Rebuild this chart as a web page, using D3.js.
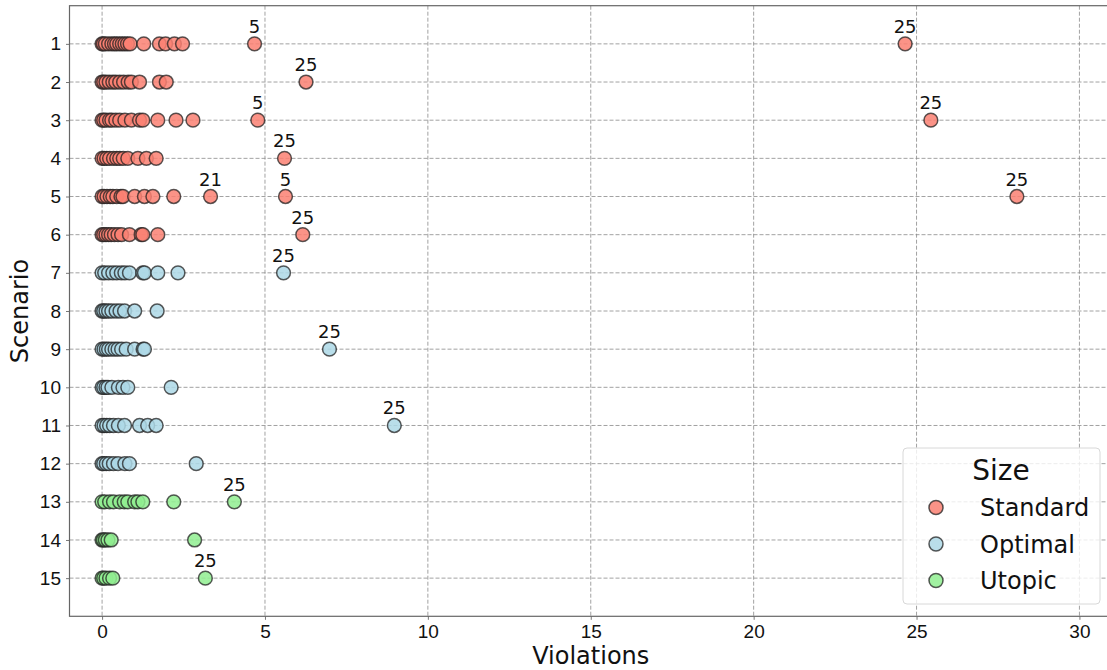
<!DOCTYPE html>
<html>
<head>
<meta charset="utf-8">
<script src="https://cdn.jsdelivr.net/npm/d3@7"></script>
<style>
  html, body { margin: 0; padding: 0; background: #fff; }
  svg { display: block; font-family: "DejaVu Sans", sans-serif; }
</style>
</head>
<body>
<svg id="chart" width="1107" height="670"></svg>
<script>
// Violations per run, one list per scenario
const scenarios = [1, 2, 3, 4, 5, 6, 7, 8, 9, 10, 11, 12, 13, 14, 15];
const scenarioSize = ["Standard", "Standard", "Standard", "Standard", "Standard", "Standard",
  "Optimal", "Optimal", "Optimal", "Optimal", "Optimal", "Optimal",
  "Utopic", "Utopic", "Utopic"];

const standardRuns = [
  [0, 0.04, 0.1, 0.2, 0.3, 0.38, 0.45, 0.54, 0.62, 0.7, 0.78, 0.86, 1.28, 1.76, 1.95, 2.22, 2.47, 4.68, 24.65],
  [0, 0.05, 0.12, 0.22, 0.33, 0.42, 0.54, 0.66, 0.8, 0.9, 1.15, 1.76, 1.97, 6.26],
  [0, 0.05, 0.12, 0.23, 0.3, 0.42, 0.54, 0.7, 0.9, 1.15, 1.25, 1.71, 2.27, 2.79, 4.78, 25.44],
  [0, 0.06, 0.14, 0.23, 0.35, 0.45, 0.54, 0.65, 0.79, 1.1, 1.36, 1.66, 5.6],
  [0, 0.06, 0.15, 0.25, 0.33, 0.45, 0.58, 0.64, 1.0, 1.3, 1.56, 2.2, 3.33, 5.63, 28.08],
  [0, 0.05, 0.12, 0.2, 0.28, 0.38, 0.49, 0.6, 0.84, 1.2, 1.25, 1.71, 6.16]
];
const optimalRuns = [
  [0, 0.08, 0.2, 0.33, 0.45, 0.59, 0.7, 0.84, 1.25, 1.3, 1.71, 2.33, 5.57],
  [0, 0.05, 0.12, 0.2, 0.3, 0.43, 0.55, 0.69, 1.0, 1.69],
  [0, 0.06, 0.13, 0.2, 0.3, 0.4, 0.49, 0.6, 0.74, 1.0, 1.26, 1.3, 6.98],
  [0, 0.05, 0.12, 0.18, 0.3, 0.5, 0.64, 0.79, 2.12],
  [0, 0.06, 0.14, 0.23, 0.35, 0.5, 0.69, 1.15, 1.4, 1.66, 8.97],
  [0, 0.05, 0.13, 0.22, 0.35, 0.49, 0.7, 0.84, 2.89]
];
const utopicRuns = [
  [0, 0.08, 0.23, 0.35, 0.54, 0.68, 0.79, 1.0, 1.1, 1.25, 2.2, 4.06],
  [0, 0.04, 0.1, 0.18, 0.28, 2.84],
  [0, 0.05, 0.12, 0.23, 0.33, 3.17]
];

// Annotated runs: [scenario, violations, label]
const annotations = [
  [1, 4.68, "5"], [1, 24.65, "25"], [2, 6.26, "25"], [3, 4.78, "5"], [3, 25.44, "25"],
  [4, 5.6, "25"], [5, 3.33, "21"], [5, 5.63, "5"], [5, 28.08, "25"], [6, 6.16, "25"],
  [7, 5.57, "25"], [9, 6.98, "25"], [11, 8.97, "25"], [13, 4.06, "25"], [15, 3.17, "25"]
];

const xTicks = [0, 5, 10, 15, 20, 25, 30];
const sizeNames = ["Standard", "Optimal", "Utopic"];
const sizeColors = ["#fa8072", "#add8e6", "#90ee90"];

const svg = d3.select("#chart");
const plot = { left: 69.5, top: 5.7, bottom: 616.3, right: 1112 };

const x = d3.scaleLinear().domain([-1, 31]).range([plot.left, plot.right]);
const y = d3.scaleLinear().domain([0, 16]).range([plot.top, plot.bottom]);
const color = d3.scaleOrdinal().domain(sizeNames).range(sizeColors);

// Grid
const grid = svg.append("g").attr("stroke", "#8a8a8a").attr("stroke-width", 0.8)
  .attr("stroke-dasharray", "4,2").attr("fill", "none");
grid.selectAll("line.gx").data(xTicks).join("line")
  .attr("x1", d => x(d)).attr("x2", d => x(d))
  .attr("y1", plot.top).attr("y2", plot.bottom);
grid.selectAll("line.gy").data(scenarios).join("line")
  .attr("x1", plot.left).attr("x2", plot.right)
  .attr("y1", d => y(d)).attr("y2", d => y(d));

// Axes
const xAxis = d3.axisBottom(x).tickValues(xTicks).tickSize(3.5).tickPadding(5).tickFormat(d3.format("d"));
const yAxis = d3.axisLeft(y).tickValues(scenarios).tickSize(3.5).tickPadding(5).tickFormat(d3.format("d"));

const gx = svg.append("g").attr("transform", `translate(0,${plot.bottom})`).call(xAxis);
const gy = svg.append("g").attr("transform", `translate(${plot.left},0)`).call(yAxis);
[gx, gy].forEach(g => {
  g.select(".domain").remove();
  g.selectAll(".tick line").attr("stroke", "#555").attr("stroke-width", 0.8);
  g.selectAll(".tick text").attr("fill", "#111").style("font-size", "19px");
});

// Spines
svg.append("rect")
  .attr("x", plot.left).attr("y", plot.top)
  .attr("width", plot.right - plot.left).attr("height", plot.bottom - plot.top)
  .attr("fill", "none").attr("stroke", "#666").attr("stroke-width", 1.2);

// Axis titles
svg.append("text").attr("x", x(15)).attr("y", 664)
  .attr("text-anchor", "middle").style("font-size", "24px").attr("fill", "#111")
  .text("Violations");
svg.append("text")
  .attr("transform", `translate(28,${y(8)}) rotate(-90)`)
  .attr("text-anchor", "middle").style("font-size", "24px").attr("fill", "#111")
  .text("Scenario");

// Points
const allRuns = standardRuns.concat(optimalRuns, utopicRuns);
const points = [];
allRuns.forEach((runs, i) => {
  runs.forEach(v => points.push({ scenario: scenarios[i], size: scenarioSize[i], value: v }));
});

svg.append("g").selectAll("circle").data(points).join("circle")
  .attr("cx", d => x(d.value)).attr("cy", d => y(d.scenario)).attr("r", 6.9)
  .attr("fill", d => color(d.size)).attr("fill-opacity", 0.85)
  .attr("stroke", "#222").attr("stroke-opacity", 0.75).attr("stroke-width", 1.5);

// Labels above annotated runs
svg.append("g").selectAll("text").data(annotations).join("text")
  .attr("x", d => x(d[1])).attr("y", d => y(d[0]) - 11)
  .attr("text-anchor", "middle").style("font-size", "18px").attr("fill", "#111")
  .text(d => d[2]);

// Legend
const lg = svg.append("g");
lg.append("rect").attr("x", 903).attr("y", 448).attr("width", 197).attr("height", 156)
  .attr("rx", 4).attr("fill", "#fff").attr("fill-opacity", 0.8)
  .attr("stroke", "#d8d8d8").attr("stroke-width", 1);
lg.append("text").attr("x", 1001).attr("y", 480).attr("text-anchor", "middle")
  .style("font-size", "28px").attr("fill", "#111").text("Size");
const items = lg.selectAll("g.item").data(sizeNames).join("g")
  .attr("transform", (d, i) => `translate(0,${507.5 + i * 36.5})`);
items.append("circle").attr("cx", 936).attr("cy", 0).attr("r", 7)
  .attr("fill", d => color(d)).attr("fill-opacity", 0.85)
  .attr("stroke", "#222").attr("stroke-opacity", 0.75).attr("stroke-width", 1.5);
items.append("text").attr("x", 980).attr("y", 0).attr("dy", "0.36em")
  .style("font-size", "24px").attr("fill", "#111").text(d => d);
</script>
</body>
</html>
